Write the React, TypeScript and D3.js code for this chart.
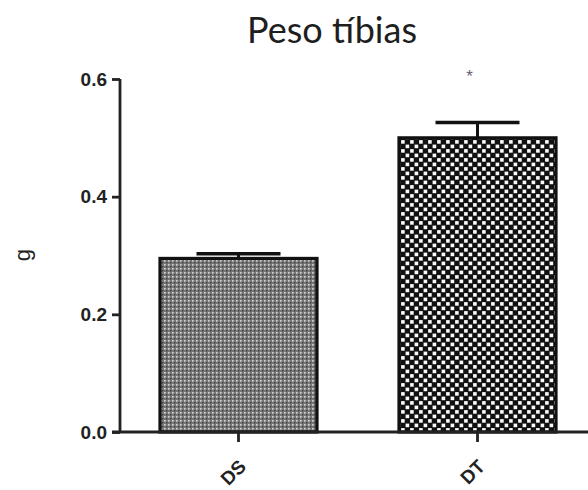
import * as d3 from "d3";
import React, { useEffect, useRef } from "react";

const categories = ["DS", "DT"];
const means = [0.295, 0.5];
const sems = [0.008, 0.026];
const yTicks = [0, 0.2, 0.4, 0.6];
const fills = ["url(#dots)", "url(#checks)"];

function App() {
  const ref = useRef<SVGSVGElement>(null);

  useEffect(() => {
    const width = 588;
    const height = 490;
    const svg = d3.select(ref.current);
    svg.selectAll("*").remove();
    svg.attr("width", width).attr("height", height);

    const defs = svg.append("defs");
    // fine gray dotted fill for DS
    const p1 = defs.append("pattern").attr("id", "dots")
      .attr("patternUnits", "userSpaceOnUse").attr("width", 4).attr("height", 4);
    p1.append("rect").attr("width", 4).attr("height", 4).attr("fill", "#777");
    p1.append("rect").attr("x", 0).attr("y", 0).attr("width", 1.6).attr("height", 1.6).attr("fill", "#d4d4d4");
    p1.append("rect").attr("x", 2).attr("y", 2).attr("width", 1.4).attr("height", 1.4).attr("fill", "#3c3c3c");

    // coarse checkerboard for DT
    const p2 = defs.append("pattern").attr("id", "checks")
      .attr("patternUnits", "userSpaceOnUse").attr("width", 9).attr("height", 9);
    p2.append("rect").attr("width", 9).attr("height", 9).attr("fill", "#111");
    p2.append("rect").attr("x", 0.6).attr("y", 0.6).attr("width", 3.6).attr("height", 3.6).attr("fill", "#fafafa");
    p2.append("rect").attr("x", 5.1).attr("y", 5.1).attr("width", 3.6).attr("height", 3.6).attr("fill", "#fafafa");

    const x = d3.scaleBand().domain(categories).range([119, 597]);
    const y = d3.scaleLinear().domain([0, 0.6]).range([432, 79]);
    const barW = 157;
    const capW = 84;
    const font = "'Liberation Sans', Arial, sans-serif";

    svg.append("text")
      .attr("x", 332).attr("y", 43)
      .attr("text-anchor", "middle")
      .attr("font-family", "Lato, 'Open Sans', sans-serif")
      .attr("font-size", 36)
      .attr("fill", "#1e1e1e")
      .text("Peso tíbias");

    const data = categories.map((c, i) => ({ c, m: means[i], s: sems[i], f: fills[i] }));

    // error bars (upper only)
    const err = svg.append("g").selectAll("g").data(data).enter().append("g");
    err.append("line")
      .attr("x1", d => x(d.c)! + x.bandwidth() / 2)
      .attr("x2", d => x(d.c)! + x.bandwidth() / 2)
      .attr("y1", d => y(d.m)).attr("y2", d => y(d.m + d.s))
      .attr("stroke", "#111").attr("stroke-width", 3);
    err.append("line")
      .attr("x1", d => x(d.c)! + x.bandwidth() / 2 - capW / 2)
      .attr("x2", d => x(d.c)! + x.bandwidth() / 2 + capW / 2)
      .attr("y1", d => y(d.m + d.s)).attr("y2", d => y(d.m + d.s))
      .attr("stroke", "#111").attr("stroke-width", 3.4);

    svg.append("g").selectAll("rect").data(data).enter().append("rect")
      .attr("x", d => x(d.c)! + x.bandwidth() / 2 - barW / 2)
      .attr("y", d => y(d.m))
      .attr("width", barW)
      .attr("height", d => y(0) - y(d.m))
      .attr("fill", d => d.f)
      .attr("stroke", "#111")
      .attr("stroke-width", 3.2);

    // significance mark
    svg.append("text")
      .attr("x", x("DT")! + x.bandwidth() / 2 - 8).attr("y", 82)
      .attr("text-anchor", "middle")
      .attr("font-family", font)
      .attr("font-size", 17)
      .attr("fill", "#6b5c78")
      .text("*");

    const yAxis = svg.append("g")
      .attr("transform", "translate(120,0)")
      .call(d3.axisLeft(y).tickValues(yTicks).tickFormat(d3.format(".1f")).tickSize(8).tickPadding(5));
    yAxis.select(".domain").attr("d", `M0,${y(0.6)}V${y(0)}`).attr("stroke", "#222").attr("stroke-width", 2.8);
    yAxis.selectAll(".tick line").attr("stroke", "#222").attr("stroke-width", 2.8);
    yAxis.selectAll(".tick text")
      .attr("font-family", font)
      .attr("font-weight", "bold").attr("font-size", 19).attr("fill", "#222");

    const xAxis = svg.append("g")
      .attr("transform", `translate(0,${y(0)})`)
      .call(d3.axisBottom(x).tickSize(10).tickSizeOuter(0));
    xAxis.select(".domain").attr("d", `M112,0H588`).attr("stroke", "#222").attr("stroke-width", 2.8);
    xAxis.selectAll(".tick line").attr("stroke", "#222").attr("stroke-width", 2.8);
    xAxis.selectAll(".tick text")
      .attr("font-family", font)
      .attr("font-weight", "bold").attr("font-size", 19).attr("fill", "#222")
      .attr("text-anchor", "end")
      .attr("transform", "translate(4,31) rotate(-45)")
      .attr("y", 0).attr("dy", "0.35em");

    svg.append("text")
      .attr("transform", `translate(30,${255}) rotate(-90)`)
      .attr("text-anchor", "middle")
      .attr("font-family", font)
      .attr("font-size", 22)
      .attr("fill", "#222")
      .text("g");
  }, []);

  return (
    <div style={{ position: "absolute", left: 0, top: 0 }}>
      <svg ref={ref}></svg>
    </div>
  );
}

export default App;
